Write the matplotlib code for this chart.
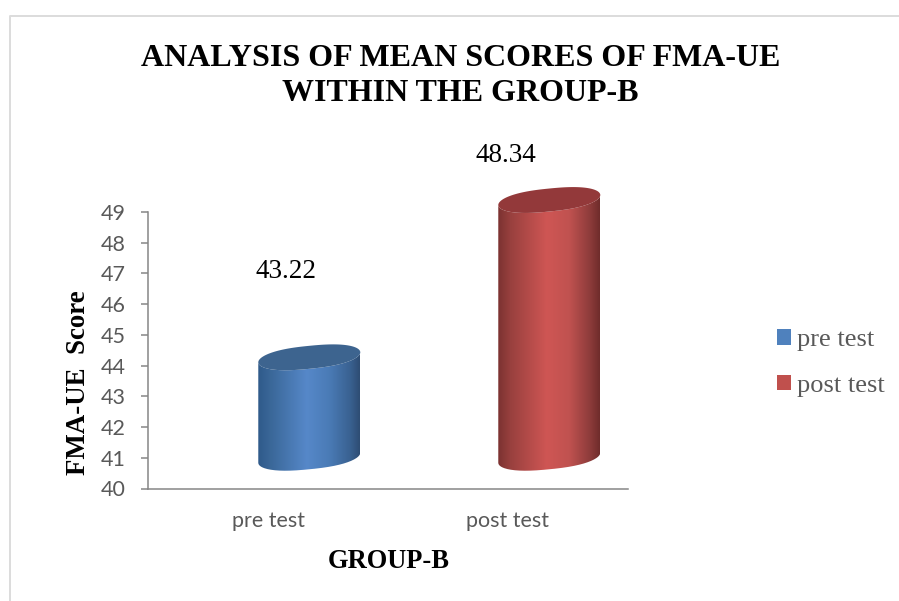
import numpy as np
import matplotlib
matplotlib.use('Agg')
import matplotlib.pyplot as plt
from matplotlib.colors import LinearSegmentedColormap
from matplotlib.lines import Line2D
from matplotlib.patches import Patch, PathPatch, Polygon
from matplotlib.path import Path

categories = ['pre test', 'post test']
values = [43.22, 48.34]
value_labels = ['43.22', '48.34']
y_ticks = list(range(40, 50))

W, H = 899, 601
SERIF = 'Liberation Serif'

fig = plt.figure(figsize=(W / 100, H / 100), dpi=100)
ax = fig.add_axes([148 / W, 1 - 488.5 / H, 480 / W, 276.5 / H])
ax.set_xlim(-0.5, 1.5)
ax.set_ylim(40, 49)

# px per data unit, the cylinders are worked out in pixels then scaled
px_x = 240.0
px_y = 276.5 / 9

shift_x = 0.172
shift_y = 1.05
floor_y = 41.0
half_w = 51 / px_x
tilt = 5 / px_y
minor = 11.5 / px_y

blue_cmap = LinearSegmentedColormap.from_list('b', [(0, '#2f5a8a'), (0.12, '#3a6798'), (0.48, '#5688c9'),
                                                    (0.7, '#4a7bb6'), (0.9, '#3a6292'), (1, '#2e4d73')])
red_cmap = LinearSegmentedColormap.from_list('r', [(0, '#7b3231'), (0.12, '#98403e'), (0.48, '#cf5654'),
                                                   (0.7, '#c05250'), (0.9, '#8e3c3b'), (1, '#6f2c2b')])
top_colors = ['#3d648f', '#93393a']
bar_cmaps = [blue_cmap, red_cmap]


def ellipse(cx, cy, t):
    # exponent below 1 makes the ends blunter, like the old office 3d cylinder
    c = np.sign(np.cos(t)) * np.abs(np.cos(t)) ** 0.8
    return np.column_stack([cx + half_w * c, cy + tilt * c + minor * np.sin(t)])


lower = np.linspace(np.pi, 2 * np.pi, 80)
full = np.linspace(0, 2 * np.pi, 160)
for i, val in enumerate(values):
    cx = i + shift_x
    top = val + shift_y
    body = np.vstack([ellipse(cx, floor_y, lower), ellipse(cx, top, lower[::-1])])
    clip = PathPatch(Path(np.vstack([body, body[0]])), transform=ax.transData)
    im = ax.imshow(np.linspace(0, 1, 256)[None, :], cmap=bar_cmaps[i], aspect='auto', zorder=3,
                   extent=[cx - half_w, cx + half_w, floor_y - 1, top + 1])
    im.set_clip_path(clip)
    im.set_clip_box(fig.bbox)
    ax.add_patch(Polygon(ellipse(cx, top, full), closed=True, fc=top_colors[i], ec='none', zorder=4, clip_on=False))

ax.set_xlim(-0.5, 1.5)
ax.set_ylim(40, 49)

label_dx = [0.077, -0.008]
label_dy = [3.84, 2.50]
for i, val in enumerate(values):
    ax.text(i + label_dx[i], val + label_dy[i], value_labels[i], ha='center', va='center',
            family=SERIF, fontsize=19.5, color='black', clip_on=False)

for s in ['top', 'right']:
    ax.spines[s].set_visible(False)
for s in ['left', 'bottom']:
    ax.spines[s].set_color('#868686')
    ax.spines[s].set_linewidth(1.1)
ax.set_yticks(y_ticks)
ax.set_xticks(range(len(categories)))
ax.set_xticklabels(categories)
ax.tick_params(axis='y', length=5, width=1.1, color='#868686', pad=11)
ax.tick_params(axis='x', length=0, pad=16)
for lab in ax.get_xticklabels() + ax.get_yticklabels():
    lab.set_family('Lato')
    lab.set_fontsize(15.5)
    lab.set_color('#595959')

fig.text(460.5 / W, 1 - 76 / H, 'ANALYSIS OF MEAN SCORES OF FMA-UE\nWITHIN THE GROUP-B', ha='center', va='center',
         family=SERIF, fontweight='bold', fontsize=23, linespacing=1.23, color='black')
fig.text(389 / W, 1 - 561.5 / H, 'GROUP-B', ha='center', va='center',
         family=SERIF, fontweight='bold', fontsize=19.1, color='black')
fig.text(78.5 / W, 1 - 383 / H, 'FMA-UE  Score', ha='center', va='center', rotation=90,
         family=SERIF, fontweight='bold', fontsize=19.4, color='black')

handles = [Patch(fc='#4f81bd', ec='none'), Patch(fc='#c0504d', ec='none')]
fig.legend(handles, categories, loc='center left', bbox_to_anchor=(777 / W, 1 - 363 / H), frameon=False,
           prop={'family': SERIF, 'size': 19}, labelcolor='#595959', handlelength=0.53, handleheight=0.53,
           handletextpad=0.23, labelspacing=0.89, borderpad=0, borderaxespad=0)

# light frame the chart sat in, cut by the page on the right and bottom
frame_x = [9.5 / W, 9.5 / W, 1]
frame_y = [0, 1 - 15.5 / H, 1 - 15.5 / H]
fig.add_artist(Line2D(frame_x, frame_y, color='#dcdcdc', lw=1.4, transform=fig.transFigure))

fig.savefig('out.png', dpi=100)
